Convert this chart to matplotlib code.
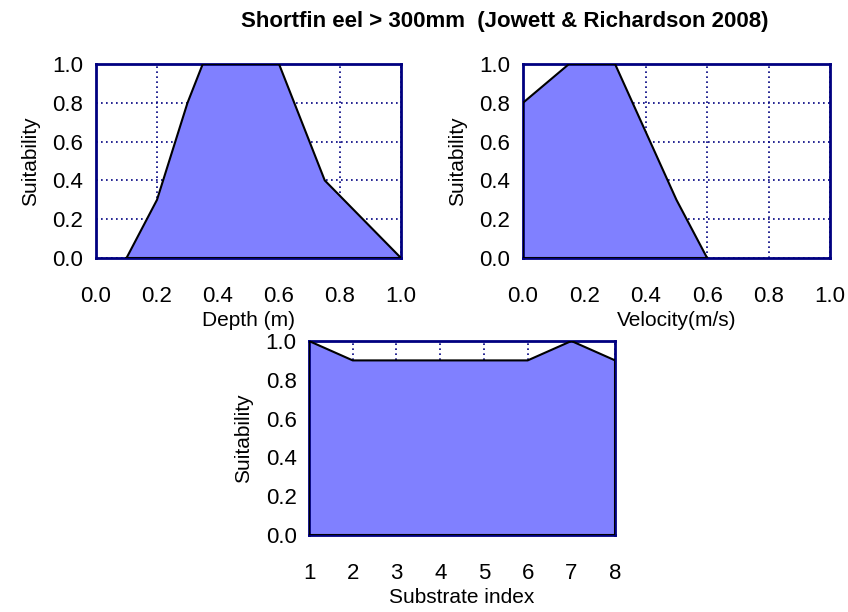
import matplotlib.pyplot as plt

plt.rcParams['font.family'] = ['Liberation Sans', 'DejaVu Sans']

# Data
depth = [0.0, 0.1, 0.2, 0.3, 0.35, 0.6, 0.75, 1.0]
depth_suit = [0.0, 0.0, 0.3, 0.8, 1.0, 1.0, 0.4, 0.0]

velocity = [0.0, 0.15, 0.3, 0.5, 0.6]
velocity_suit = [0.8, 1.0, 1.0, 0.3, 0.0]

substrate = [1, 2, 3, 4, 5, 6, 7, 8]
substrate_suit = [1.0, 0.9, 0.9, 0.9, 0.9, 0.9, 1.0, 0.9]

fill_col = "#8080ff"
navy = "#000080"


def style_axes(ax, xlim, xticks, xfmt, xlabel):
    ax.set_xlim(*xlim)
    ax.set_ylim(0, 1.0)
    ax.set_xticks(xticks)
    ax.set_xticklabels([xfmt.format(v) for v in xticks])
    ax.set_yticks([0.0, 0.2, 0.4, 0.6, 0.8, 1.0])
    ax.set_yticklabels(["0.0", "0.2", "0.4", "0.6", "0.8", "1.0"])
    ax.grid(True, color=navy, linestyle=(0, (1, 2)), linewidth=1.2)
    ax.set_axisbelow(True)
    for s in ax.spines.values():
        s.set_color(navy)
        s.set_linewidth(2)
    ax.tick_params(axis="both", length=0, labelsize=16)
    ax.tick_params(axis="x", pad=20)
    ax.tick_params(axis="y", pad=9)
    ax.set_xlabel(xlabel, fontsize=15, labelpad=3)
    ax.set_ylabel("Suitability", fontsize=15, labelpad=9)


fig = plt.figure(figsize=(8.48, 6.12), dpi=100)

ax1 = fig.add_axes([0.1132, 0.5784, 0.3597, 0.317])
ax1.fill_between(depth, depth_suit, 0, facecolor=fill_col, edgecolor="none", zorder=2)
ax1.plot(depth[1:], depth_suit[1:], color="black", lw=1.5, zorder=3)
ax1.plot([depth[1], depth[-1]], [0, 0], color="black", lw=1.5, zorder=3)
style_axes(ax1, (0, 1), [0.0, 0.2, 0.4, 0.6, 0.8, 1.0], "{:.1f}", "Depth (m)")

ax2 = fig.add_axes([0.6167, 0.5784, 0.362, 0.317])
ax2.fill_between(velocity, velocity_suit, 0, facecolor=fill_col, edgecolor="none", zorder=2)
ax2.plot(velocity, velocity_suit, color="black", lw=1.5, zorder=3)
ax2.plot([velocity[0], velocity[0], velocity[-1]], [velocity_suit[0], 0, 0],
         color="black", lw=1.5, zorder=3)
style_axes(ax2, (0, 1), [0.0, 0.2, 0.4, 0.6, 0.8, 1.0], "{:.1f}", "Velocity(m/s)")

ax3 = fig.add_axes([0.3644, 0.1258, 0.361, 0.317])
ax3.fill_between(substrate, substrate_suit, 0, facecolor=fill_col, edgecolor="none", zorder=2)
ax3.plot(substrate, substrate_suit, color="black", lw=1.5, zorder=3)
ax3.plot([substrate[0], substrate[0], substrate[-1], substrate[-1]],
         [substrate_suit[0], 0, 0, substrate_suit[-1]], color="black", lw=1.5, zorder=3)
style_axes(ax3, (1, 8), substrate, "{:d}", "Substrate index")

fig.text(0.595, 0.965, "Shortfin eel > 300mm  (Jowett & Richardson 2008)",
         ha="center", va="center", fontsize=16, fontweight="bold")

fig.savefig("out.png", dpi=100)
